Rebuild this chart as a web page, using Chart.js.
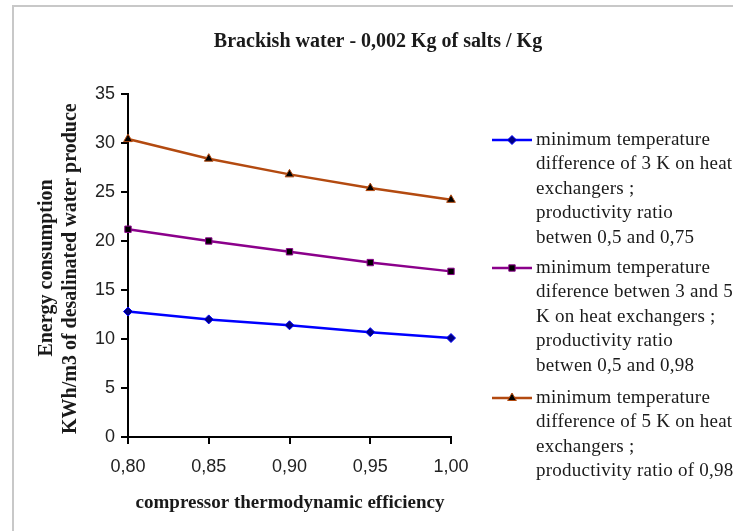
<!DOCTYPE html>
<html>
<head>
<meta charset="utf-8">
<script src="https://cdn.jsdelivr.net/npm/chart.js@4.4.1/dist/chart.umd.min.js"></script>
<style>
  html, body { margin: 0; padding: 0; background: #fff; }
  #wrap { width: 733px; height: 531px; position: relative; }
</style>
</head>
<body>
<div id="wrap"><canvas id="c" width="733" height="531"></canvas></div>
<script>
const efficiency = [0.80, 0.85, 0.90, 0.95, 1.00];
const series3K = [12.8, 12.0, 11.4, 10.7, 10.1];
const series3to5K = [21.2, 20.0, 18.9, 17.8, 16.9];
const series5K = [30.4, 28.4, 26.8, 25.4, 24.2];
const yTicks = [0, 5, 10, 15, 20, 25, 30, 35];
const titleText = 'Brackish water - 0,002 Kg of salts / Kg';
const xTitle = 'compressor thermodynamic efficiency';
const yTitleLines = ['Energy consumption', 'KWh/m3 of desalinated water produced'];
const legendLines = [
  ['minimum temperature', 'difference of 3 K on heat', 'exchangers ;', 'productivity ratio', 'betwen 0,5 and 0,75'],
  ['minimum temperature', 'diference betwen 3 and 5', 'K on heat exchangers ;', 'productivity ratio', 'betwen 0,5 and 0,98'],
  ['minimum temperature', 'difference of 5 K on heat', 'exchangers ;', 'productivity ratio of 0,98']
];

const colors = ['#0000ff', '#8b008b', '#b34a10'];
const markers = ['rectRot', 'rect', 'triangle'];
const fills = ['#000080', '#000000', '#000000'];
const radii = [4.5, 4.5, 5];
const seriesList = [series3K, series3to5K, series5K];

const toXY = arr => arr.map((v, i) => ({ x: efficiency[i], y: v }));
const SERIF = '"Liberation Serif", "Times New Roman", serif';

const decorPlugin = {
  id: 'decor',
  beforeDraw(chart) {
    const ctx = chart.ctx;
    ctx.save();
    ctx.fillStyle = '#fff';
    ctx.fillRect(0, 0, chart.width, chart.height);
    ctx.strokeStyle = '#c8c8c8';
    ctx.lineWidth = 2;
    ctx.beginPath();
    ctx.moveTo(13, 531);
    ctx.lineTo(13, 6);
    ctx.lineTo(733, 6);
    ctx.stroke();
    ctx.restore();
  },
  afterDraw(chart) {
    const ctx = chart.ctx;
    ctx.save();
    ctx.fillStyle = '#1a1a1a';
    ctx.textBaseline = 'middle';
    // Title
    ctx.font = 'bold 20px ' + SERIF;
    ctx.textAlign = 'center';
    ctx.fillText(titleText, 378, 42);
    // X title
    ctx.font = 'bold 19px ' + SERIF;
    ctx.fillText(xTitle, 290, 503);
    // Y title (second line clipped at top)
    ctx.font = 'bold 20px ' + SERIF;
    ctx.save();
    ctx.beginPath();
    ctx.rect(0, 104, 120, 427);
    ctx.clip();
    ctx.save();
    ctx.translate(47, 268);
    ctx.rotate(-Math.PI / 2);
    ctx.textAlign = 'center';
    ctx.fillText(yTitleLines[0], 0, 0);
    ctx.restore();
    ctx.save();
    ctx.translate(71, 434);
    ctx.rotate(-Math.PI / 2);
    ctx.textAlign = 'left';
    ctx.fillText(yTitleLines[1], 0, 0);
    ctx.restore();
    ctx.restore();

    // Legend
    const starts = [140, 268, 398];
    const lh = 24.5;
    ctx.font = '19px ' + SERIF;
    ctx.letterSpacing = '0.25px';
    ctx.textAlign = 'left';
    legendLines.forEach((lines, i) => {
      const y0 = starts[i];
      ctx.strokeStyle = colors[i];
      ctx.lineWidth = 2.5;
      ctx.beginPath();
      ctx.moveTo(492, y0);
      ctx.lineTo(532, y0);
      ctx.stroke();
      ctx.fillStyle = fills[i];
      ctx.strokeStyle = colors[i];
      ctx.lineWidth = 1;
      Chart.helpers.drawPoint(ctx, { pointStyle: markers[i], radius: radii[i], rotation: 0, borderWidth: 1 }, 512, y0);
      ctx.fillStyle = '#1a1a1a';
      lines.forEach((t, j) => ctx.fillText(t, 536, y0 + j * lh));
    });
    ctx.letterSpacing = '0px';
    ctx.restore();
  }
};

new Chart(document.getElementById('c'), {
  type: 'line',
  data: {
    datasets: seriesList.map((s, i) => ({
      label: legendLines[i].join(' '),
      data: toXY(s),
      borderColor: colors[i],
      backgroundColor: fills[i],
      borderWidth: 2.5,
      pointStyle: markers[i],
      pointRadius: radii[i],
      pointBorderWidth: 1,
      pointBorderColor: colors[i],
      pointBackgroundColor: fills[i],
      tension: 0,
      clip: false
    }))
  },
  options: {
    responsive: false,
    animation: false,
    devicePixelRatio: 1,
    layout: { padding: { left: 0, right: 282, top: 94, bottom: 0 } },
    plugins: {
      legend: { display: false },
      title: { display: false },
      tooltip: { enabled: false }
    },
    scales: {
      x: {
        type: 'linear',
        min: efficiency[0],
        max: efficiency[efficiency.length - 1],
        afterFit(scale) { scale.height = 94; },
        afterBuildTicks(scale) { scale.ticks = efficiency.map(v => ({ value: v })); },
        ticks: {
          color: '#222',
          font: { family: '"Liberation Sans", Arial, sans-serif', size: 18 },
          padding: 12,
          maxRotation: 0,
          callback: v => Number(v).toFixed(2).replace('.', ',')
        },
        grid: { display: true, drawOnChartArea: false, drawTicks: true, tickLength: 7, color: '#000', lineWidth: 2 },
        border: { display: true, color: '#000', width: 2 }
      },
      y: {
        min: yTicks[0],
        max: yTicks[yTicks.length - 1],
        afterFit(scale) { scale.width = 128; },
        afterBuildTicks(scale) { scale.ticks = yTicks.map(v => ({ value: v })); },
        ticks: {
          color: '#222',
          font: { family: '"Liberation Sans", Arial, sans-serif', size: 18 },
          padding: 6
        },
        grid: { display: true, drawOnChartArea: false, drawTicks: true, tickLength: 7, color: '#000', lineWidth: 2 },
        border: { display: true, color: '#000', width: 2 }
      }
    }
  },
  plugins: [decorPlugin]
});
</script>
</body>
</html>
